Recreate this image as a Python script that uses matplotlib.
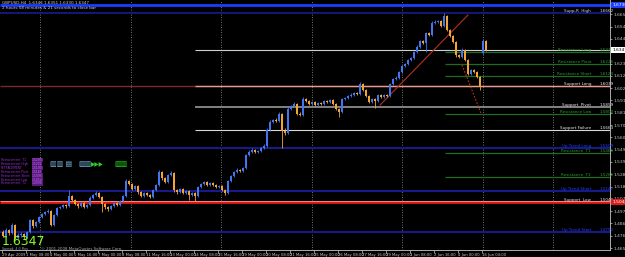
import matplotlib
matplotlib.use("Agg")
import matplotlib.pyplot as plt

# GBPUSD H4 candles
opens = [1.4792, 1.4758, 1.4809, 1.4783, 1.4851, 1.4740, 1.4766, 1.4775, 1.4749, 1.4792,
         1.4894, 1.4843, 1.4877, 1.4920, 1.4945, 1.4963, 1.4971, 1.4851, 1.4937, 1.4997,
         1.5005, 1.5022, 1.5014, 1.5099, 1.5065, 1.5031, 1.5014, 1.5040, 1.5005, 1.5022,
         1.5082, 1.5108, 1.5125, 1.5091, 1.5031, 1.5005, 1.4988, 1.5014, 1.5040, 1.5022,
         1.5057, 1.5099, 1.5228, 1.5202, 1.5159, 1.5185, 1.5133, 1.5099, 1.5125, 1.5108,
         1.5091, 1.5150, 1.5193, 1.5304, 1.5253, 1.5219, 1.5279, 1.5296, 1.5150, 1.5133,
         1.5159, 1.5125, 1.5142, 1.5108, 1.5125, 1.5099, 1.5176, 1.5202, 1.5219, 1.5193,
         1.5210, 1.5193, 1.5176, 1.5185, 1.5150, 1.5125, 1.5228, 1.5270, 1.5304, 1.5321,
         1.5313, 1.5338, 1.5449, 1.5475, 1.5492, 1.5475, 1.5483, 1.5509, 1.5526, 1.5663,
         1.5731, 1.5748, 1.5740, 1.5800, 1.5654, 1.5637, 1.5842, 1.5868, 1.5885, 1.5800,
         1.5791, 1.5928, 1.5911, 1.5885, 1.5902, 1.5876, 1.5893, 1.5885, 1.5911, 1.5902,
         1.5919, 1.5885, 1.5842, 1.5817, 1.5928, 1.5936, 1.5953, 1.5962, 1.5979, 1.5970,
         1.6056, 1.6004, 1.5953, 1.5902, 1.5928, 1.5911, 1.5962, 1.5945, 1.5962, 1.5953,
         1.6056, 1.6098, 1.6107, 1.6158, 1.6209, 1.6226, 1.6261, 1.6278, 1.6329, 1.6372,
         1.6423, 1.6406, 1.6491, 1.6474, 1.6577, 1.6585, 1.6594, 1.6551, 1.6636, 1.6517,
         1.6466, 1.6414, 1.6303, 1.6286, 1.6346, 1.6261, 1.6141, 1.6175, 1.6158, 1.6115,
         1.6320, 1.6423]
closes = [1.4758, 1.4809, 1.4783, 1.4851, 1.4740, 1.4766, 1.4775, 1.4749, 1.4792, 1.4894,
          1.4843, 1.4877, 1.4920, 1.4945, 1.4963, 1.4971, 1.4851, 1.4937, 1.4997, 1.5005,
          1.5022, 1.5014, 1.5099, 1.5065, 1.5031, 1.5014, 1.5040, 1.5005, 1.5022, 1.5082,
          1.5108, 1.5125, 1.5091, 1.5031, 1.5005, 1.4988, 1.5014, 1.5040, 1.5022, 1.5057,
          1.5099, 1.5228, 1.5202, 1.5159, 1.5185, 1.5133, 1.5099, 1.5125, 1.5108, 1.5091,
          1.5150, 1.5193, 1.5304, 1.5253, 1.5219, 1.5279, 1.5296, 1.5150, 1.5133, 1.5159,
          1.5125, 1.5142, 1.5108, 1.5125, 1.5099, 1.5176, 1.5202, 1.5219, 1.5193, 1.5210,
          1.5193, 1.5176, 1.5185, 1.5150, 1.5125, 1.5228, 1.5270, 1.5304, 1.5321, 1.5313,
          1.5338, 1.5449, 1.5475, 1.5492, 1.5475, 1.5483, 1.5509, 1.5526, 1.5663, 1.5731,
          1.5748, 1.5740, 1.5800, 1.5654, 1.5637, 1.5842, 1.5868, 1.5885, 1.5800, 1.5791,
          1.5928, 1.5911, 1.5885, 1.5902, 1.5876, 1.5893, 1.5885, 1.5911, 1.5902, 1.5919,
          1.5885, 1.5842, 1.5817, 1.5928, 1.5936, 1.5953, 1.5962, 1.5979, 1.5970, 1.6056,
          1.6004, 1.5953, 1.5902, 1.5928, 1.5911, 1.5962, 1.5945, 1.5962, 1.5953, 1.6056,
          1.6098, 1.6107, 1.6158, 1.6209, 1.6226, 1.6261, 1.6278, 1.6329, 1.6372, 1.6423,
          1.6406, 1.6491, 1.6474, 1.6577, 1.6585, 1.6594, 1.6551, 1.6636, 1.6517, 1.6466,
          1.6414, 1.6303, 1.6286, 1.6346, 1.6261, 1.6141, 1.6175, 1.6158, 1.6115, 1.6030,
          1.6423, 1.6347]
highs = [1.4805, 1.4822, 1.4818, 1.4870, 1.4860, 1.4780, 1.4790, 1.4786, 1.4800, 1.4905,
         1.4900, 1.4888, 1.4932, 1.4955, 1.4975, 1.4990, 1.4980, 1.4948, 1.5008, 1.5018,
         1.5035, 1.5030, 1.5150, 1.5110, 1.5072, 1.5040, 1.5050, 1.5048, 1.5035, 1.5095,
         1.5120, 1.5140, 1.5132, 1.5098, 1.5040, 1.5015, 1.5025, 1.5050, 1.5048, 1.5066,
         1.5110, 1.5245, 1.5240, 1.5210, 1.5195, 1.5192, 1.5140, 1.5135, 1.5132, 1.5115,
         1.5160, 1.5205, 1.5320, 1.5315, 1.5262, 1.5290, 1.5310, 1.5305, 1.5160, 1.5170,
         1.5165, 1.5152, 1.5150, 1.5135, 1.5130, 1.5188, 1.5212, 1.5230, 1.5225, 1.5222,
         1.5218, 1.5200, 1.5195, 1.5190, 1.5158, 1.5240, 1.5282, 1.5315, 1.5335, 1.5330,
         1.5350, 1.5462, 1.5488, 1.5505, 1.5500, 1.5495, 1.5520, 1.5540, 1.5680, 1.5748,
         1.5760, 1.5762, 1.5815, 1.5812, 1.5680, 1.5858, 1.5880, 1.5898, 1.5892, 1.5815,
         1.5945, 1.5938, 1.5920, 1.5912, 1.5910, 1.5902, 1.5900, 1.5920, 1.5918, 1.5930,
         1.5925, 1.5892, 1.5850, 1.5940, 1.5948, 1.5965, 1.5975, 1.5990, 1.5988, 1.6070,
         1.6065, 1.6012, 1.5960, 1.5938, 1.5935, 1.5972, 1.5970, 1.5972, 1.5968, 1.6068,
         1.6110, 1.6120, 1.6170, 1.6220, 1.6238, 1.6272, 1.6290, 1.6340, 1.6385, 1.6435,
         1.6432, 1.6500, 1.6500, 1.6590, 1.6598, 1.6605, 1.6600, 1.6662, 1.6645, 1.6525,
         1.6475, 1.6420, 1.6315, 1.6360, 1.6352, 1.6268, 1.6185, 1.6182, 1.6165, 1.6122,
         1.6440, 1.6432]
lows = [1.4745, 1.4750, 1.4770, 1.4775, 1.4728, 1.4730, 1.4752, 1.4735, 1.4740, 1.4785,
        1.4830, 1.4835, 1.4868, 1.4910, 1.4935, 1.4950, 1.4840, 1.4845, 1.4930, 1.4985,
        1.4995, 1.5000, 1.5005, 1.5055, 1.5020, 1.5000, 1.5005, 1.4995, 1.4998, 1.5015,
        1.5075, 1.5100, 1.5080, 1.4960, 1.4990, 1.4975, 1.4980, 1.5008, 1.5010, 1.5015,
        1.5050, 1.5090, 1.5190, 1.5148, 1.5150, 1.5120, 1.5088, 1.5090, 1.5095, 1.5080,
        1.5085, 1.5140, 1.5185, 1.5240, 1.5210, 1.5210, 1.5270, 1.5135, 1.5120, 1.5125,
        1.5115, 1.5118, 1.5065, 1.5100, 1.5060, 1.5090, 1.5168, 1.5195, 1.5185, 1.5185,
        1.5185, 1.5168, 1.5165, 1.5140, 1.5110, 1.5118, 1.5220, 1.5262, 1.5295, 1.5300,
        1.5305, 1.5330, 1.5440, 1.5468, 1.5465, 1.5468, 1.5475, 1.5500, 1.5518, 1.5655,
        1.5722, 1.5728, 1.5732, 1.5509, 1.5620, 1.5630, 1.5835, 1.5860, 1.5790, 1.5780,
        1.5785, 1.5900, 1.5875, 1.5878, 1.5868, 1.5870, 1.5875, 1.5880, 1.5895, 1.5895,
        1.5878, 1.5835, 1.5774, 1.5810, 1.5920, 1.5928, 1.5945, 1.5955, 1.5962, 1.5962,
        1.5995, 1.5945, 1.5890, 1.5895, 1.5851, 1.5905, 1.5935, 1.5938, 1.5945, 1.5945,
        1.6048, 1.6090, 1.6100, 1.6150, 1.6200, 1.6218, 1.6252, 1.6270, 1.6320, 1.6365,
        1.6395, 1.6329, 1.6465, 1.6468, 1.6570, 1.6575, 1.6540, 1.6545, 1.6505, 1.6455,
        1.6405, 1.6290, 1.6275, 1.6278, 1.6250, 1.6130, 1.6132, 1.6148, 1.6105, 1.6005,
        1.6310, 1.6338]

time_labels = ["29 Apr 2009", "1 May 08:00", "4 May 00:00", "5 May 16:00", "7 May 00:00",
               "8 May 08:00", "11 May 16:00", "13 May 00:00", "14 May 08:00", "15 May 16:00",
               "19 May 00:00", "20 May 08:00", "21 May 16:00", "25 May 00:00", "26 May 08:00",
               "27 May 16:00", "29 May 00:00", "1 Jun 08:00", "2 Jun 16:00", "4 Jun 00:00",
               "16 Jun 04:00"]
price_ticks = [1.4655, 1.4760, 1.4865, 1.4970, 1.5075, 1.5180, 1.5285, 1.5390, 1.5495,
               1.5600, 1.5705, 1.5810, 1.5915, 1.6020, 1.6125, 1.6230, 1.6440,
               1.6545, 1.6650]

# full-width trend / support lines
band_prices = [1.6730, 1.6662, 1.5509, 1.5142, 1.4792]
band_colors = ["#1c3cff", "#1a1a90", "#1a1a90", "#1a1a90", "#1a1a90"]
# lines drawn from mid-May onward
mid_prices = [1.6346, 1.6039, 1.5859, 1.5663]
mid_colors = ["#cfcfcf", "#e0a090", "#8c8c8c", "#d8d8d8"]
mid_widths = [0.8, 1.0, 1.3, 0.8]
# short green resistance lines on the right
res_prices = [1.6329, 1.6226, 1.6124, 1.5800, 1.5466, 1.5261]

level_names = ["Supp-R  High", "Resistance Long", "Resistance Pivot", "Resistance Short",
               "Support Long", "Support  Pivot", "Resistance Low", "Support Failure",
               "Up Trend Long", "Resistance  T1", "Resistance  T2", "Up Trend Short",
               "Support  Low", "Up Trend Start"]
level_prices = [1.6662, 1.6329, 1.6226, 1.6124, 1.6039, 1.5859, 1.5800, 1.5663,
                1.5509, 1.5466, 1.5261, 1.5142, 1.5048, 1.4792]
level_colors = ["#d0d0d0", "#2e9a2e", "#2e9a2e", "#2e9a2e", "#e8e8e8", "#e8e8e8",
                "#2e9a2e", "#e8e8e8", "#2040ff", "#2e9a2e", "#2e9a2e", "#2040ff",
                "#e8e8e8", "#2040ff"]

retr_names = ["Retracement  T1", "Retracement High", "RETRACEMENT", "Retracement Pivot",
              "Retracement Short", "Retracement Low", "Retracement  T2"]
retr_values = ["1.5290", "1.5232", "1.5190", "1.5143", "1.5096", "1.5054", "1.4996"]

support_low = 1.5048
grid_bars = [12.3, 42.7, 72.7, 103.0, 133.0, 160.0, 183.3]

fig = plt.figure(figsize=(6.25, 2.57), dpi=100, facecolor="black")
ax = fig.add_axes([0, 7 / 257, 610 / 625, 250 / 257], facecolor="black")
ax.set_xlim(-1, 202.33)
ax.set_ylim(1.4638, 1.6773)

for gx in grid_bars:
    ax.axvline(gx, color="#9a9a9a", lw=0.6, ls=(0, (1, 2)), zorder=1)

ax.hlines(band_prices, -1, 203, colors=band_colors, lw=[2.0, 1.2, 1.4, 1.4, 1.4], zorder=2)
ax.hlines(1.6039, -1, 203, colors="#7a2a2a", lw=1.0, zorder=2)
ax.hlines(mid_prices, 64, 203, colors=mid_colors, lw=mid_widths, zorder=2)
ax.hlines(res_prices, 147.3, 203, colors="#1f6b1f", lw=0.9, zorder=2)
ax.hlines(support_low, -1, 203, colors="#e01818", lw=2.0, zorder=2)
ax.hlines(support_low + 0.0009, -1, 203, colors="#ff9c9c", lw=0.6, zorder=2)

# trend lines
ax.plot([125.7, 155.0], [1.5876, 1.6645], color="#b03020", lw=0.8, zorder=2)
ax.plot([153.0, 159.3], [1.6218, 1.5808], color="#c03020", lw=0.8, ls=(0, (1.5, 1.5)), zorder=2)

# candles
x = list(range(len(closes)))
bar_col = ["#4276f0" if c >= o else "#f4a432" for o, c in zip(opens, closes)]
ax.vlines(x, lows, highs, colors=bar_col, lw=0.6, zorder=3)
body_h = [c - o if abs(c - o) > 0.0004 else 0.0004 for o, c in zip(opens, closes)]
ax.bar(x, body_h, bottom=opens, width=0.72, color=bar_col, lw=0, zorder=4)

# axis styling
ax.yaxis.tick_right()
ax.set_yticks(price_ticks)
ax.set_yticklabels([f"{p:.4f}" for p in price_ticks])
ax.tick_params(axis="y", colors="#c8c8c8", labelsize=3.2, length=1.5, pad=1, width=0.5)
ax.set_xticks([8 * i - 0.4 for i in range(len(time_labels))])
ax.set_xticklabels(time_labels)
ax.tick_params(axis="x", colors="#c8c8c8", labelsize=2.7, length=2, pad=0.5, width=0.5)
for lbl in ax.get_xticklabels():
    lbl.set_ha("left")
for side in ["top", "left"]:
    ax.spines[side].set_visible(False)
for side in ["right", "bottom"]:
    ax.spines[side].set_color("#c8c8c8")
    ax.spines[side].set_linewidth(0.6)

# price boxes on the axis
box_kw = dict(fontsize=3.2, ha="left", va="center", clip_on=False, zorder=6)
ax.text(203.1, 1.6730, "1.6730", color="white",
        bbox=dict(boxstyle="square,pad=0.2", fc="#1c3cff", ec="none"), **box_kw)
ax.text(203.1, 1.6347, "1.6347", color="black",
        bbox=dict(boxstyle="square,pad=0.2", fc="white", ec="none"), **box_kw)
ax.text(203.1, support_low, f"{support_low:.4f}", color="white",
        bbox=dict(boxstyle="square,pad=0.2", fc="#e01818", ec="none"), **box_kw)

# level labels on the right
for name, p, col in zip(level_names, level_prices, level_colors):
    ax.text(196.0, p + 0.0003, name, color=col, fontsize=3.0, ha="right", va="bottom", zorder=5)
    ax.text(198.7, p + 0.0003, f"{p:.4f}", color=col, fontsize=3.0, ha="left", va="bottom", zorder=5)

# retracement block on the left
for i, (name, val) in enumerate(zip(retr_names, retr_values)):
    yy = 1.5405 - i * 0.0033
    ax.text(-0.7, yy, name, color="#9b30d0", fontsize=2.2, ha="left", va="center", zorder=5)
    ax.text(9.6, yy, val, color="#c070ff", fontsize=2.2, ha="left", va="center", zorder=5,
            bbox=dict(boxstyle="square,pad=0.05", fc="#5a1a7a", ec="none"))

# indicator glyphs
ax.text(15.5, 1.5370, "▥▥ ▤", color="#7ab8e0", fontsize=5, ha="left", va="center", zorder=5)
ax.text(25.0, 1.5370, "▥▥", color="#7ab8e0", fontsize=5, ha="left", va="center", zorder=5)
ax.text(29.3, 1.5370, "▶▶▶", color="#30d030", fontsize=4, ha="left", va="center", zorder=5)
ax.text(37.0, 1.5370, "▥▥", color="#20e020", fontsize=5, ha="left", va="center", zorder=5)

# header texts
fig.text(2 / 625, 1 - 3 / 257, "GBPUSD,H4  1.6343 1.6351 1.6330 1.6347",
         color="#d0d0d0", fontsize=3.0, ha="left", va="center")
fig.text(2 / 625, 1 - 8 / 257, "2 hours 58 minutes & 21 seconds to close bar",
         color="#d0d0d0", fontsize=3.0, ha="left", va="center")

# big bid price and footer
ax.text(-0.4, 1.4712, "1.6347", color="#80ff20", fontsize=9, ha="left", va="center", zorder=7)
ax.text(-0.4, 1.4648, "Spread: 4.0 Pips", color="#a0a0a0", fontsize=2.3, ha="left", va="center", zorder=7)
ax.text(12.6, 1.4648, "© 2001-2008 MetaQuotes Software Corp.", color="#b0b0b0", fontsize=2.8,
        ha="left", va="center", zorder=7)

fig.savefig("out.png", dpi=100, facecolor="black")
